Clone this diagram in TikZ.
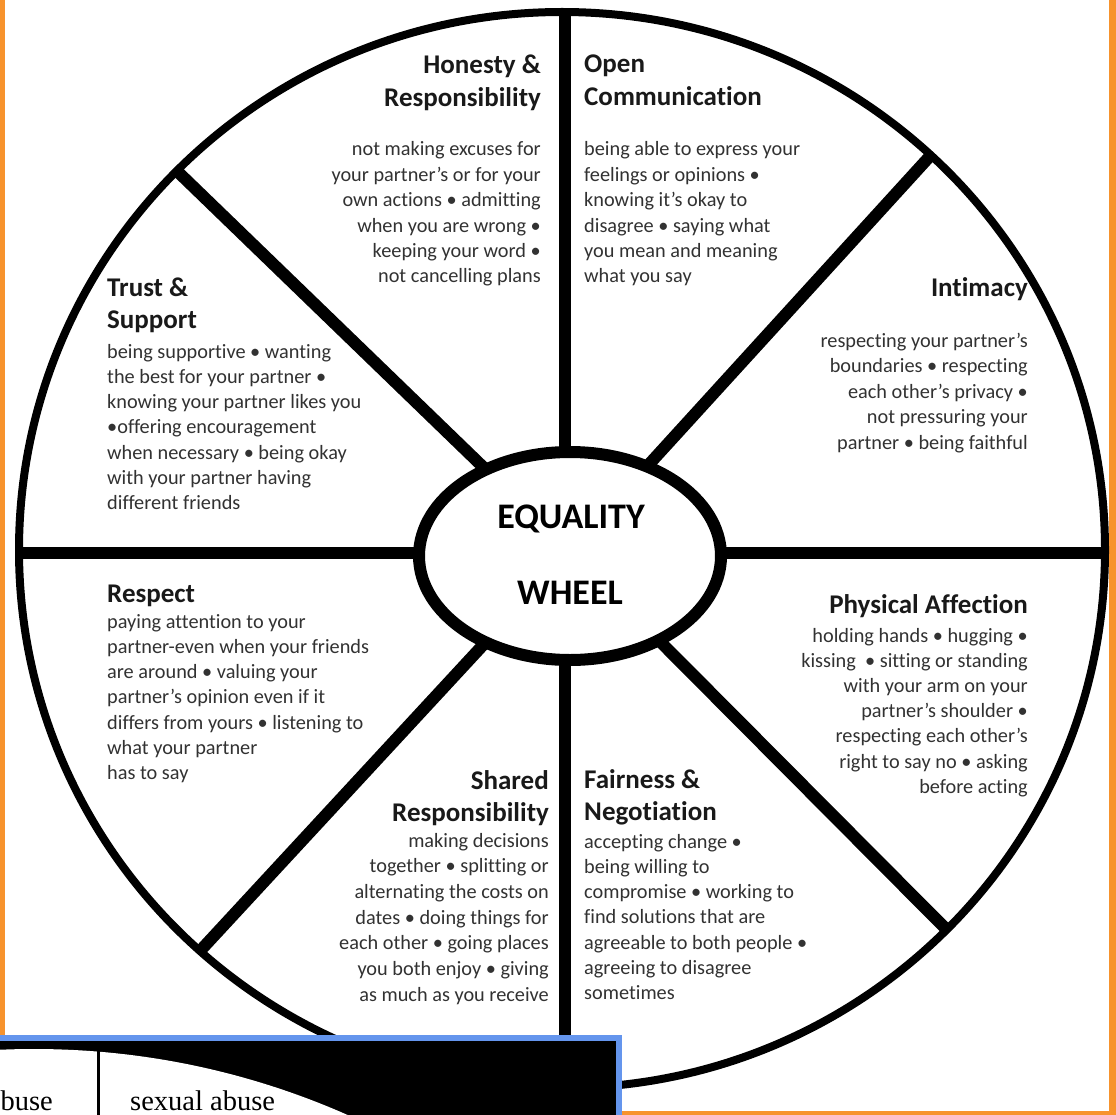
\documentclass[tikz,border=0pt]{standalone}
\usepackage{fontspec}
\setmainfont{Carlito}[Ligatures={NoCommon,NoContextual}]
\newfontfamily\pcserif{Liberation Serif}
\usetikzlibrary{shapes.geometric}
\definecolor{frameorange}{RGB}{247,147,45}
\definecolor{boxblue}{RGB}{100,149,237}
\definecolor{bodygray}{RGB}{50,50,50}
\definecolor{headblack}{RGB}{25,25,25}
\tikzset{
  body/.style={inner sep=0pt, text=bodygray, font=\fontsize{20.3}{24}\selectfont},
  head/.style={inner sep=0pt, text=headblack, font=\bfseries\fontsize{27}{32}\selectfont},
  hubtext/.style={inner sep=0pt, text=black, font=\bfseries\fontsize{36}{40}\selectfont},
  spoke/.style={line width=12pt, black},
  rim/.style={line width=8pt, black},
  serifbox/.style={inner sep=0pt, text=black, font=\pcserif\fontsize{28.5}{30}\selectfont},
}
% #1 style, #2 anchor, #3 name, #4 x, #5 first baseline, #6 pitch, #7 lines
\newcommand\txtblock[7]{%
  \foreach \ln [count=\i] in {#7}{%
    \node[#1, anchor=#2] (#3\i) at (#4,{#5+(\i-1)*#6}) {\ln};}}
\begin{document}
\begin{tikzpicture}[x=1pt,y=-1pt]
\useasboundingbox (0,0) rectangle (1116,1115);
\fill[white] (0,0) rectangle (1116,1115);
% orange frame
\fill[frameorange] (0,0) rectangle (5,1115);
\fill[frameorange] (1109,0) rectangle (1116,1115);
\fill[frameorange] (620,1111) rectangle (1116,1115);
% wheel rim
\node[draw, rim, ellipse, minimum width=1086pt, minimum height=1076pt, inner sep=0pt, outer sep=0pt] (wheel) at (562,550) {};
% spokes
\coordinate (hubc) at (570,551);
\coordinate (sT) at (565,11);
\coordinate (sB) at (565,1088);
\coordinate (sL) at (19,553);
\coordinate (sR) at (1105,553);
\coordinate (sUL) at (177,171);
\coordinate (sUR) at (931,155);
\coordinate (sLL) at (200,951);
\coordinate (sLR) at (947,930);
\draw[spoke] (sT) -- (sB);
\draw[spoke] (sL) -- (sR);
\draw[spoke] (hubc) -- (sUL);
\draw[spoke] (hubc) -- (sUR);
\draw[spoke] (hubc) -- (sLL);
\draw[spoke] (hubc) -- (sLR);
% hub
\node[draw, ellipse, fill=white, line width=12pt, minimum width=302pt, minimum height=208pt, inner sep=0pt] (hub) at (570,556) {};
\node[hubtext, anchor=base] (eq) at (571,528) {EQUALITY};
\node[hubtext, anchor=base] (wh) at (570,604) {WHEEL};
% Honesty & Responsibility
\txtblock{head}{base east}{hrh}{541}{74}{32.5}{Honesty \&,Responsibility}
\txtblock{body}{base east}{hrb}{541}{156}{25.4}{not making excuses for,your partner’s or for your,own actions • admitting,when you are wrong •,keeping your word •,not cancelling plans}
% Open Communication
\txtblock{head}{base west}{och}{584}{73}{32.5}{Open,Communication}
\txtblock{body}{base west}{ocb}{584}{156}{25.4}{being able to express your,feelings or opinions •,knowing it’s okay to,disagree • saying what,you mean and meaning,what you say}
% Intimacy
\txtblock{head}{base east}{inh}{1028}{297}{32.5}{Intimacy}
\txtblock{body}{base east}{inb}{1028}{347}{25.5}{respecting your partner’s,boundaries • respecting,each other’s privacy •,not pressuring your,partner • being faithful}
% Trust & Support
\txtblock{head}{base west}{tsh}{107}{296}{32.5}{Trust \&,Support}
\txtblock{body}{base west}{tsb}{107}{358}{25.3}{being supportive • wanting,the best for your partner •,knowing your partner likes you,•offering encouragement,when necessary • being okay,with your partner having,different friends}
% Respect
\txtblock{head}{base west}{reh}{107}{602}{32.5}{Respect}
\txtblock{body}{base west}{reb}{107}{628}{25.3}{paying attention to your,partner-even when your friends,are around • valuing your,partner’s opinion even if it,differs from yours • listening to,what your partner,has to say}
% Physical Affection
\txtblock{head}{base east}{pah}{1028}{613}{32.5}{Physical Affection}
\txtblock{body}{base east}{pab}{1028}{642}{25.2}{holding hands • hugging •,kissing\ \ • sitting or standing,with your arm on your,partner’s shoulder •,respecting each other’s,right to say no • asking,before acting}
% Shared Responsibility
\txtblock{head}{base east}{srh}{549}{789}{32.5}{Shared,Responsibility}
\txtblock{body}{base east}{srb}{549}{847}{25.7}{making decisions,together • splitting or,alternating the costs on,dates • doing things for,each other • going places,you both enjoy • giving,as much as you receive}
% Fairness & Negotiation
\txtblock{head}{base west}{fnh}{584}{788}{32}{Fairness \&,Negotiation}
\txtblock{body}{base west}{fnb}{584}{848}{25.3}{accepting change •,being willing to,compromise • working to,find solutions that are,agreeable to both people •,agreeing to disagree,sometimes}
% inset fragment (blue framed)
\fill[boxblue] (-5,1035) rectangle (622,1125);
\fill[black] (-5,1041) rectangle (616,1125);
\begin{scope}
  \clip (-5,1041) rectangle (616,1125);
  \fill[white] (34,1825) circle (776);
  \draw[line width=3pt, black] (98,1041) -- (98,1125);
\end{scope}
\node[serifbox, anchor=base east] (buse) at (53,1110) {buse};
\node[serifbox, anchor=base west] (sexab) at (130,1110) {sexual abuse};
\end{tikzpicture}
\end{document}
